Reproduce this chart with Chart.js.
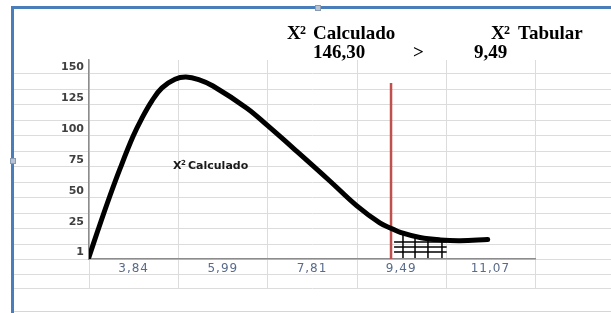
<!DOCTYPE html>
<html>
<head>
<meta charset="utf-8">
<script src="https://cdn.jsdelivr.net/npm/chart.js@4.4.1/dist/chart.umd.min.js"></script>
<style>
  html, body { margin: 0; padding: 0; background: #ffffff; }
  #wrap { position: relative; width: 611px; height: 313px; overflow: hidden; background: #fff; }
  #frameLeft { position: absolute; left: 11px; top: 6px; width: 3px; height: 307px; background: #4a7ebb; }
  #frameTop { position: absolute; left: 11px; top: 6px; width: 600px; height: 3px; background: #4a7ebb; }
  #frameBottom { position: absolute; left: 14px; top: 311px; width: 597px; height: 1px; background: #c6d9f0; }
  #handleL { position: absolute; left: 10px; top: 158px; width: 4px; height: 4px; background: #b8c4d4; border: 1px solid #8a9ab0; }
  #handleT { position: absolute; left: 315px; top: 5px; width: 4px; height: 4px; background: #b8c4d4; border: 1px solid #8a9ab0; }
  canvas { position: absolute; left: 0; top: 0; }
</style>
</head>
<body>
<div id="wrap">
  <div id="frameLeft"></div>
  <div id="frameTop"></div>
  <div id="frameBottom"></div>
  <div id="handleL"></div>
  <div id="handleT"></div>
  <canvas id="c" width="611" height="313"></canvas>
</div>
<script>
// ---- Data ----
// x axis category labels (chi-square critical values)
const xLabels = ['3,84', '5,99', '7,81', '9,49', '11,07'];
// y axis tick labels (bottom to top)
const yLabels = ['1', '25', '50', '75', '100', '125', '150'];
const yTickValues = [0, 25, 50, 75, 100, 125, 150];
// curve (x in category-column units, 0..5; y in axis units)
const curveX = [0, 0.10, 0.235, 0.348, 0.493, 0.594, 0.706, 0.818, 0.964, 1.087, 1.23, 1.39, 1.77, 2.0, 2.33, 2.70, 3.0, 3.26, 3.39, 3.49, 3.71, 3.94, 4.16, 4.47];
const curveY = [-3.6, 18, 46, 68, 94, 109, 123, 133.5, 140.5, 142.3, 140.2, 135, 117, 103, 82, 58, 38, 24, 19.5, 16.3, 12.2, 10.2, 9.6, 10.5];
// critical value line (red)
const critX = 3.386;
const critTop = 137.4;
// hatched rejection region
const hatchVX = [3.52, 3.655, 3.80, 3.957];
const hatchVTop = [15.8, 13.4, 11.8, 10.1];
const hatchHY = [8.5, 4.5, 0.4];
const hatchHX = [3.42, 4.01];
const yMin = -5.27, yMax = 156.1;

// ---- Build datasets from the arrays ----
const curveData = curveX.map((x, i) => ({ x: x, y: curveY[i] }));
const critData = [{ x: critX, y: critTop }, { x: critX, y: yMin }];
const hatchData = [];
hatchVX.forEach((x, i) => { hatchData.push({ x: x, y: hatchVTop[i] }, { x: x, y: -4.5 }, { x: x, y: null }); });
hatchHY.forEach(y => { hatchData.push({ x: hatchHX[0], y: y }, { x: hatchHX[1], y: y }, { x: hatchHX[1], y: null }); });

// spreadsheet background grid
const sheetGrid = {
  id: 'sheetGrid',
  beforeDraw(chart) {
    const ctx = chart.ctx, a = chart.chartArea;
    const colW = (a.right - a.left) / xLabels.length;
    ctx.save();
    ctx.strokeStyle = '#dcdcdc';
    ctx.lineWidth = 1;
    const gTop = a.top, gBottom = a.bottom + 29;
    for (let k = 0; k <= xLabels.length; k++) {
      const x = Math.round(a.left + k * colW) + 0.5;
      ctx.beginPath(); ctx.moveTo(x, gTop); ctx.lineTo(x, gBottom); ctx.stroke();
    }
    const rows = [];
    for (let k = 1; k <= 12; k++) rows.push(a.bottom - k * 15.5);
    rows.push(a.bottom, a.bottom + 14.5, a.bottom + 29);
    rows.forEach(y => {
      const yy = Math.round(y) + 0.5;
      ctx.beginPath(); ctx.moveTo(14, yy); ctx.lineTo(611, yy); ctx.stroke();
    });
    ctx.restore();
  }
};

// slightly wider letter spacing for the x tick labels
const xSpacing = {
  id: 'xSpacing',
  afterUpdate(chart) {
    const s = chart.scales.x;
    if (s && !s.__wrapped) {
      const orig = s.drawLabels;
      s.drawLabels = function (area) {
        const c = this.ctx; c.save(); c.letterSpacing = '1px'; orig.call(this, area); c.restore();
      };
      s.__wrapped = true;
    }
  }
};

// text annotations
function supText(ctx, x, y, parts) {
  parts.forEach(p => {
    ctx.font = p.font;
    ctx.fillText(p.t, x + p.dx, y + (p.dy || 0));
  });
}
const notes = {
  id: 'notes',
  afterDraw(chart) {
    const ctx = chart.ctx;
    ctx.save();
    ctx.fillStyle = '#000';
    ctx.textBaseline = 'alphabetic';
    ctx.textAlign = 'left';
    const big = 'bold 19px "Liberation Serif"';
    const sup = 'bold 12px "Liberation Serif"';
    supText(ctx, 287, 39, [
      { t: 'X', dx: 0, font: big },
      { t: '2', dx: 13, dy: -5, font: sup },
      { t: 'Calculado', dx: 26, font: big }
    ]);
    supText(ctx, 491, 39, [
      { t: 'X', dx: 0, font: big },
      { t: '2', dx: 13, dy: -5, font: sup },
      { t: 'Tabular', dx: 27, font: big }
    ]);
    ctx.font = big;
    ctx.fillText('146,30', 313, 58);
    ctx.fillText('>', 413, 58);
    ctx.fillText('9,49', 474, 58);
    ctx.fillStyle = '#1a1a1a';
    const sm = 'bold 11px "DejaVu Sans"';
    const smSup = 'bold 7px "DejaVu Sans"';
    supText(ctx, 173, 169, [
      { t: 'X', dx: 0, font: sm },
      { t: '2', dx: 8, dy: -4, font: smSup },
      { t: 'Calculado', dx: 15, font: sm }
    ]);
    ctx.restore();
  }
};

new Chart(document.getElementById('c'), {
  type: 'line',
  data: {
    datasets: [
      { data: hatchData, borderColor: '#000', borderWidth: 1.5, pointRadius: 0, spanGaps: false, tension: 0 },
      { data: curveData, borderColor: '#000', borderWidth: 5, pointRadius: 0, tension: 0.4, borderCapStyle: 'round', borderJoinStyle: 'round' },
      { data: critData, borderColor: '#c0504d', borderWidth: 2.5, pointRadius: 0 }
    ]
  },
  options: {
    responsive: false,
    animation: false,
    events: [],
    layout: { padding: { top: 60, right: 76, left: 0, bottom: 0 } },
    plugins: { legend: { display: false }, tooltip: { enabled: false }, title: { display: false } },
    scales: {
      x: {
        type: 'linear', min: 0, max: xLabels.length,
        grid: { display: false, drawTicks: false },
        border: { display: true, color: '#8c8c8c', width: 1.5 },
        afterBuildTicks: s => { s.ticks = xLabels.map((_, i) => ({ value: i + 0.5 })); },
        afterFit: s => { s.height = 54; },
        ticks: {
          autoSkip: false, maxRotation: 0, padding: 3,
          color: '#596b8c', font: { family: 'DejaVu Sans', size: 12 },
          callback: (v, i) => xLabels[i]
        }
      },
      y: {
        type: 'linear', min: yMin, max: yMax,
        grid: { display: false, drawTicks: false },
        border: { display: true, color: '#8c8c8c', width: 1.5 },
        afterBuildTicks: s => { s.ticks = yTickValues.map(v => ({ value: v })); },
        afterFit: s => { s.width = 89; },
        ticks: {
          autoSkip: false, padding: 5,
          color: '#404040', font: { family: 'DejaVu Sans', size: 11, weight: 'bold' },
          callback: (v, i) => yLabels[i]
        }
      }
    }
  },
  plugins: [sheetGrid, xSpacing, notes]
});
</script>
</body>
</html>
